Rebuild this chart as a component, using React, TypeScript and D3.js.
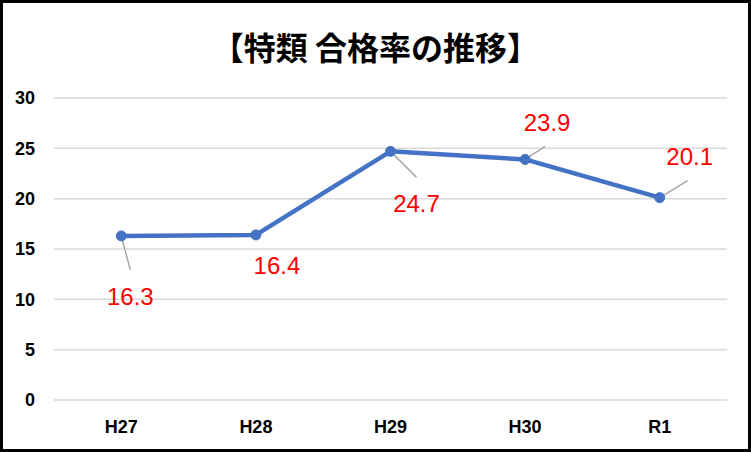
import React from 'react';
import * as d3 from 'd3';

const categories = ['H27', 'H28', 'H29', 'H30', 'R1'];
const passRates = [16.3, 16.4, 24.7, 23.9, 20.1];
const yTicks = [0, 5, 10, 15, 20, 25, 30];
const title = '【特類 合格率の推移】';

// label placement relative to each point (dx, dy of label center), and whether to draw a leader
const labelOffsets: [number, number, boolean][] = [
    [9, 60, true],
    [21, 30, false],
    [26, 52, true],
    [22, -37, true],
    [30, -41, true],
];

const W = 751;
const H = 452;
const margin = { top: 98, right: 24, bottom: 52, left: 54 };

const App: React.FC = () => {
    const innerW = W - margin.left - margin.right;
    const x = d3
        .scalePoint<string>()
        .domain(categories)
        .range([margin.left, margin.left + innerW])
        .padding(0.5);
    const y = d3
        .scaleLinear()
        .domain([0, 30])
        .range([H - margin.bottom, margin.top]);

    const line = d3
        .line<number>()
        .x((_, i) => x(categories[i]) as number)
        .y((d) => y(d));

    return (
        <svg
            width={W}
            height={H}
            style={{ position: 'absolute', left: 0, top: 0, background: '#fff' }}
        >
            <rect x={1.5} y={1.5} width={W - 3} height={H - 3} fill="#fff" stroke="#000" strokeWidth={3} />
            <text
                x={W / 2}
                y={60}
                textAnchor="middle"
                fontFamily="'Noto Sans CJK JP', sans-serif"
                fontWeight="bold"
                fontSize={32}
                fill="#000"
            >
                {title}
            </text>

            {yTicks.map((t) => (
                <g key={t}>
                    <line
                        x1={margin.left}
                        x2={W - margin.right}
                        y1={y(t)}
                        y2={y(t)}
                        stroke="#d9d9d9"
                        strokeWidth={1.5}
                    />
                    <text
                        x={35}
                        y={y(t)}
                        dy="0.36em"
                        textAnchor="end"
                        fontFamily="'Liberation Sans', Arial, sans-serif"
                        fontWeight="bold"
                        fontSize={18}
                        fill="#000"
                    >
                        {t}
                    </text>
                </g>
            ))}

            {categories.map((c) => (
                <text
                    key={c}
                    x={x(c)}
                    y={433}
                    textAnchor="middle"
                    fontFamily="'Liberation Sans', Arial, sans-serif"
                    fontWeight="bold"
                    fontSize={18}
                    fill="#000"
                >
                    {c}
                </text>
            ))}

            <path d={line(passRates) || ''} fill="none" stroke="#4472C4" strokeWidth={4.5} strokeLinejoin="round" />

            {passRates.map((v, i) => {
                const px = x(categories[i]) as number;
                const py = y(v);
                const [dx, dy, leader] = labelOffsets[i];
                const lx = px + dx;
                const ly = py + dy;
                // leader end just outside the label box
                const ex = dy > 0 ? lx : lx - 2;
                const ey = dy > 0 ? ly - 26 : ly + 24;
                return (
                    <g key={categories[i]}>
                        {leader && (
                            <line x1={px} y1={py} x2={ex} y2={ey} stroke="#a6a6a6" strokeWidth={1.5} />
                        )}
                        <circle cx={px} cy={py} r={5} fill="#4472C4" stroke="#4472C4" strokeWidth={1} />
                        <text
                            x={lx}
                            y={ly}
                            dy="0.36em"
                            textAnchor="middle"
                            fontFamily="'Liberation Sans', Arial, sans-serif"
                            fontSize={24}
                            fill="#ff0000"
                        >
                            {v.toFixed(1)}
                        </text>
                    </g>
                );
            })}
        </svg>
    );
};

export default App;
